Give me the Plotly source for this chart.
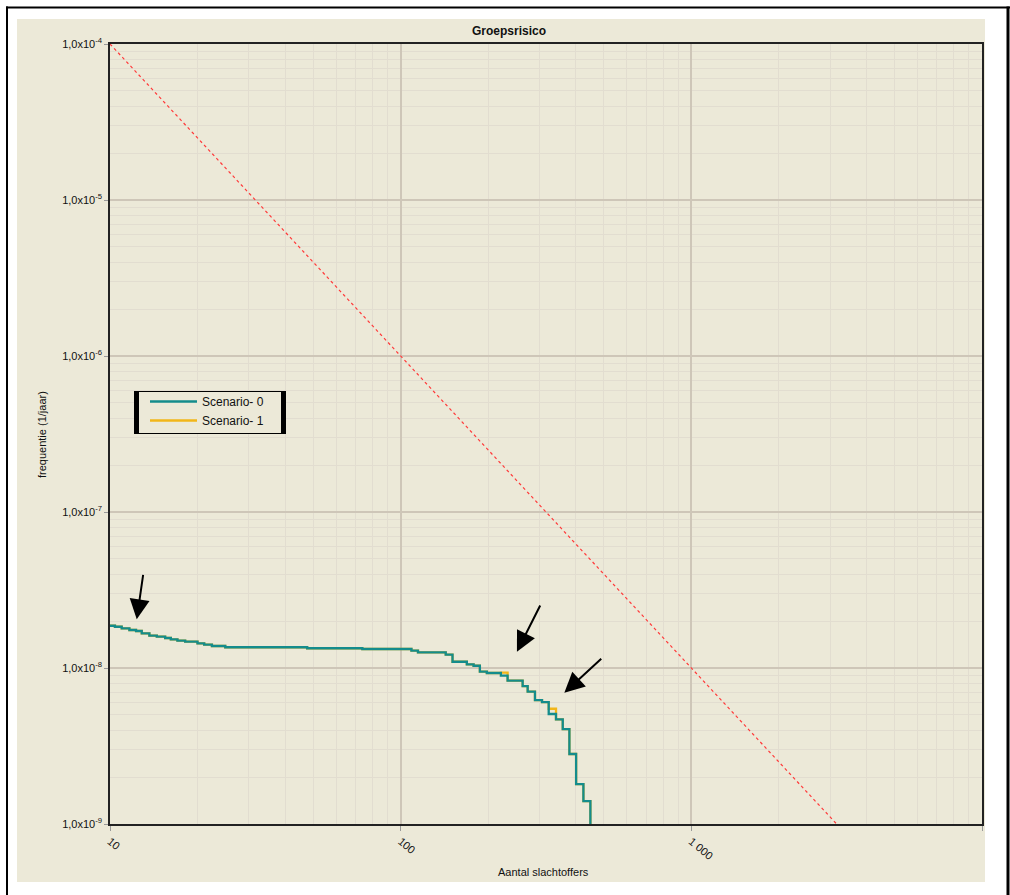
import math
import plotly.graph_objects as go

# ---------------- data ----------------
TITLE = "Groepsrisico"
X_TITLE = "Aantal slachtoffers"
Y_TITLE = "frequentie (1/jaar)"

x_tickvals = [10, 100, 1000, 10000]
x_ticktext = ["10", "100", "1 000", "10 000"]
y_tickvals = [1e-9, 1e-8, 1e-7, 1e-6, 1e-5, 1e-4]
y_ticktext = ["1,0x10<sup>-9</sup>", "1,0x10<sup>-8</sup>", "1,0x10<sup>-7</sup>",
              "1,0x10<sup>-6</sup>", "1,0x10<sup>-5</sup>", "1,0x10<sup>-4</sup>"]

# number of fatalities at the start of each step of the FN curve
n_steps = [10.0, 10.40, 10.97, 11.66, 12.29, 12.86, 13.66, 14.49, 15.48, 16.19,
           17.06, 18.14, 20.0, 21.09, 22.42, 24.92, 47.67, 73.79, 108.9, 114.7,
           142.9, 150.8, 168.9, 178.2, 187.3, 197.9, 221.2, 233.3, 262.8, 273.5,
           289.8, 306.4, 323.1, 342.3, 361.1, 380.6, 401.4, 425.3, 449.5]

# cumulative frequency (1/jaar) per step
f_scenario0 = [1.866e-8, 1.839e-8, 1.796e-8, 1.752e-8, 1.726e-8, 1.668e-8, 1.611e-8,
               1.587e-8, 1.557e-8, 1.528e-8, 1.496e-8, 1.475e-8, 1.440e-8, 1.411e-8,
               1.384e-8, 1.358e-8, 1.338e-8, 1.324e-8, 1.291e-8, 1.261e-8, 1.217e-8,
               1.097e-8, 1.056e-8, 1.034e-8, 9.47e-9, 9.29e-9, 8.93e-9, 8.29e-9,
               7.66e-9, 7.05e-9, 6.23e-9, 6.05e-9, 5.07e-9, 4.69e-9, 4.06e-9,
               2.81e-9, 1.80e-9, 1.40e-9, 5e-10]

f_scenario1 = [1.866e-8, 1.839e-8, 1.796e-8, 1.752e-8, 1.726e-8, 1.668e-8, 1.611e-8,
               1.587e-8, 1.557e-8, 1.528e-8, 1.496e-8, 1.475e-8, 1.440e-8, 1.411e-8,
               1.384e-8, 1.358e-8, 1.338e-8, 1.324e-8, 1.291e-8, 1.261e-8, 1.217e-8,
               1.097e-8, 1.056e-8, 1.034e-8, 9.47e-9, 9.29e-9, 9.33e-9, 8.29e-9,
               7.66e-9, 7.05e-9, 6.23e-9, 6.05e-9, 5.48e-9, 4.69e-9, 4.06e-9,
               2.81e-9, 1.80e-9, 1.40e-9, 5e-10]

# orientation value (norm line)
n_norm = [10, 10000]
f_norm = [1e-4, 1e-10]

# arrow annotations: tip (N, F) and tail offset in px
arrow_tips_n = [12.36, 251.2, 365.7]
arrow_tips_f = [2.051e-8, 1.272e-8, 6.945e-9]
arrow_dx = [6.6, 24, 38.4]
arrow_dy = [-46, -47.7, -35.4]

# ---------------- style ----------------
BG = "#ECE9D8"
MAJOR = "#CEC6B8"
MINOR = "#E2DDD0"
TEAL = "#148C8C"
YELLOW = "#F2B619"
FONT = "Arial, Liberation Sans, sans-serif"

W, H = 1010, 895
L, R, T, B = 110, 28, 44, 71
PW, PH = W - L - R, H - T - B


def px(x):
    return (x - L) / PW


def py(y):
    return (H - B - y) / PH


fig = go.Figure()

fig.add_trace(go.Scatter(
    x=n_norm, y=f_norm, mode="lines", showlegend=False,
    line=dict(color="#FF3A3A", width=1.2, dash="3px,3px"), hoverinfo="skip"))

fig.add_trace(go.Scatter(
    x=n_steps, y=f_scenario1, mode="lines", name="Scenario- 1", legendrank=2,
    line=dict(color=YELLOW, width=2.3, shape="hv")))

fig.add_trace(go.Scatter(
    x=n_steps, y=f_scenario0, mode="lines", name="Scenario- 0", legendrank=1,
    line=dict(color=TEAL, width=2.3, shape="hv")))

minor_x = [m * 10 ** k for k in (1, 2, 3) for m in range(2, 10)]
minor_y = [m * 10.0 ** k for k in range(-9, -4) for m in range(2, 10)]

fig.update_xaxes(
    type="log", range=[1, 4], tickmode="array", tickvals=x_tickvals, ticktext=x_ticktext,
    tickangle=40, ticks="outside", ticklen=5, tickcolor="#9a9a9a",
    showgrid=True, gridcolor=MAJOR, gridwidth=2,
    minor=dict(tickmode="array", tickvals=minor_x, showgrid=True, gridcolor=MINOR,
               gridwidth=1, ticks=""),
    showline=True, mirror=True, linecolor="#222222", linewidth=1.5,
    zeroline=False, automargin=False, tickfont=dict(size=11, color="#111"))

fig.update_yaxes(
    type="log", range=[-9, -4], tickmode="array", tickvals=y_tickvals, ticktext=y_ticktext,
    ticks="outside", ticklen=4, tickcolor="#9a9a9a",
    showgrid=True, gridcolor=MAJOR, gridwidth=2,
    minor=dict(tickmode="array", tickvals=minor_y, showgrid=True, gridcolor=MINOR,
               gridwidth=1, ticks=""),
    showline=True, mirror=True, linecolor="#222222", linewidth=1.5,
    zeroline=False, automargin=False, tickfont=dict(size=11, color="#111"))

shapes = [
    # beige panel
    dict(type="rect", xref="paper", yref="paper", layer="below",
         x0=px(17), x1=px(985), y0=py(882), y1=py(19), fillcolor=BG, line=dict(width=0)),
    # white clip strip at right
    dict(type="rect", xref="paper", yref="paper", layer="above",
         x0=px(985), x1=px(1012), y0=py(897), y1=py(9), fillcolor="white", line=dict(width=0)),
    # outer black frame lines
    dict(type="line", xref="paper", yref="paper", layer="above",
         x0=px(6), x1=px(1010), y0=py(7.5), y1=py(7.5), line=dict(color="black", width=2)),
    dict(type="line", xref="paper", yref="paper", layer="above",
         x0=px(7), x1=px(7), y0=py(6.5), y1=py(896), line=dict(color="black", width=2)),
    dict(type="line", xref="paper", yref="paper", layer="above",
         x0=px(1008), x1=px(1008), y0=py(6.5), y1=py(896), line=dict(color="black", width=3)),
    # legend box
    dict(type="rect", xref="paper", yref="paper", layer="above",
         x0=px(134.5), x1=px(285.5), y0=py(433.5), y1=py(391.5), fillcolor=BG,
         line=dict(color="black", width=1)),
    dict(type="rect", xref="paper", yref="paper", layer="above",
         x0=px(134), x1=px(139), y0=py(434), y1=py(391), fillcolor="black", line=dict(width=0)),
    dict(type="rect", xref="paper", yref="paper", layer="above",
         x0=px(281), x1=px(286), y0=py(434), y1=py(391), fillcolor="black", line=dict(width=0)),
]

annotations = [
    dict(text="<b>" + TITLE + "</b>", xref="paper", yref="paper", x=px(509), y=py(31),
         showarrow=False, font=dict(family=FONT, size=12, color="#111"),
         xanchor="center", yanchor="middle"),
    dict(text=X_TITLE, xref="paper", yref="paper", x=px(543), y=py(872), showarrow=False,
         font=dict(size=11, color="#111"), xanchor="center", yanchor="middle"),
    dict(text=Y_TITLE, xref="paper", yref="paper", x=px(42), y=py(435), showarrow=False,
         textangle=-90, font=dict(size=11, color="#111"), xanchor="center", yanchor="middle"),
]
for n, f, dx, dy in zip(arrow_tips_n, arrow_tips_f, arrow_dx, arrow_dy):
    annotations.append(dict(
        xref="x", yref="y", x=math.log10(n), y=math.log10(f), ax=dx, ay=dy, text="",
        showarrow=True, arrowhead=2, arrowsize=2, arrowwidth=2, arrowcolor="black",
        standoff=0))

fig.update_layout(
    width=W, height=H,
    margin=dict(l=L, r=R, t=T, b=B, pad=0, autoexpand=False),
    paper_bgcolor="white", plot_bgcolor=BG,
    font=dict(family=FONT, size=11, color="#111"),
    showlegend=True,
    legend=dict(x=px(145), y=py(387), xanchor="left", yanchor="top",
                bgcolor="rgba(0,0,0,0)", borderwidth=0, itemwidth=47,
                font=dict(family=FONT, size=12, color="#111"), tracegroupgap=0),
    shapes=shapes, annotations=annotations,
)

fig.write_html("out.html", config={"displayModeBar": False}, post_script=
               "document.body.style.margin='0';document.body.style.padding='0';"
               "document.body.style.overflow='hidden';")
